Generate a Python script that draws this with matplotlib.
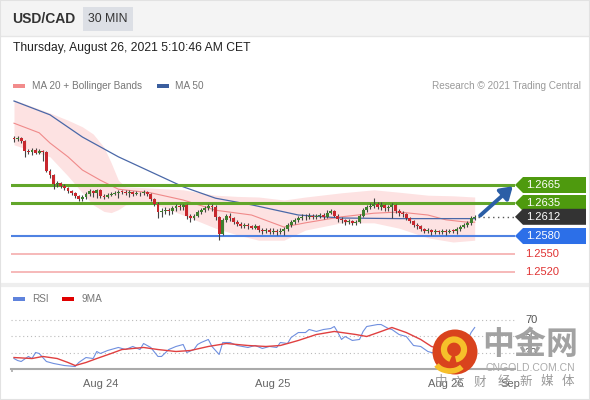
import matplotlib
matplotlib.use("Agg")
import matplotlib.pyplot as plt
from matplotlib.patches import Polygon, Rectangle, Circle, Arc

W, H = 590, 400

# 30 min candles, USD/CAD
first_open = 1.2743
closes = [1.2741, 1.2743, 1.2738, 1.2722, 1.2720, 1.2723, 1.2719, 1.2722, 1.2720, 1.2689,
          1.2681, 1.2666, 1.2668, 1.2664, 1.2660, 1.2655, 1.2651, 1.2646, 1.2641, 1.2645,
          1.2650, 1.2655, 1.2652, 1.2656, 1.2647, 1.2645, 1.2649, 1.2650, 1.2652, 1.2654,
          1.2653, 1.2651, 1.2653, 1.2650, 1.2652, 1.2651, 1.2653, 1.2650, 1.2641, 1.2634,
          1.2620, 1.2622, 1.2624, 1.2621, 1.2626, 1.2630, 1.2628, 1.2631, 1.2614, 1.2610,
          1.2614, 1.2620, 1.2624, 1.2627, 1.2630, 1.2628, 1.2611, 1.2584, 1.2607, 1.2613,
          1.2610, 1.2604, 1.2600, 1.2597, 1.2598, 1.2596, 1.2594, 1.2596, 1.2590, 1.2588,
          1.2590, 1.2587, 1.2589, 1.2586, 1.2588, 1.2592, 1.2598, 1.2603, 1.2607, 1.2610,
          1.2612, 1.2611, 1.2614, 1.2612, 1.2613, 1.2615, 1.2612, 1.2619, 1.2621, 1.2614,
          1.2609, 1.2606, 1.2603, 1.2605, 1.2601, 1.2604, 1.2614, 1.2623, 1.2628, 1.2630,
          1.2633, 1.2629, 1.2631, 1.2626, 1.2628, 1.2632, 1.2622, 1.2618, 1.2616, 1.2610,
          1.2605, 1.2599, 1.2596, 1.2592, 1.2589, 1.2590, 1.2587, 1.2588, 1.2586, 1.2588,
          1.2587, 1.2589, 1.2588, 1.2592, 1.2595, 1.2598, 1.2602, 1.2610, 1.2612]
highs = [1.2746, 1.2747, 1.2745, 1.2740, 1.2725, 1.2726, 1.2726, 1.2725, 1.2724, 1.2722,
         1.2691, 1.2684, 1.2672, 1.2670, 1.2666, 1.2662, 1.2657, 1.2653, 1.2648, 1.2648,
         1.2653, 1.2658, 1.2657, 1.2658, 1.2658, 1.2650, 1.2651, 1.2653, 1.2655, 1.2657,
         1.2656, 1.2656, 1.2656, 1.2655, 1.2655, 1.2654, 1.2656, 1.2655, 1.2652, 1.2643,
         1.2636, 1.2626, 1.2628, 1.2627, 1.2630, 1.2633, 1.2633, 1.2634, 1.2633, 1.2616,
         1.2617, 1.2623, 1.2627, 1.2630, 1.2634, 1.2634, 1.2631, 1.2614, 1.2610, 1.2617,
         1.2618, 1.2612, 1.2606, 1.2603, 1.2601, 1.2601, 1.2598, 1.2600, 1.2598, 1.2593,
         1.2594, 1.2593, 1.2593, 1.2591, 1.2593, 1.2595, 1.2601, 1.2606, 1.2610, 1.2614,
         1.2616, 1.2616, 1.2618, 1.2617, 1.2617, 1.2619, 1.2618, 1.2623, 1.2625, 1.2623,
         1.2616, 1.2612, 1.2608, 1.2608, 1.2607, 1.2607, 1.2617, 1.2626, 1.2632, 1.2635,
         1.2643, 1.2636, 1.2636, 1.2634, 1.2632, 1.2635, 1.2634, 1.2625, 1.2621, 1.2618,
         1.2612, 1.2607, 1.2602, 1.2598, 1.2594, 1.2593, 1.2592, 1.2592, 1.2590, 1.2592,
         1.2591, 1.2592, 1.2592, 1.2595, 1.2598, 1.2601, 1.2605, 1.2613, 1.2615]
lows = [1.2737, 1.2738, 1.2735, 1.2712, 1.2716, 1.2715, 1.2716, 1.2716, 1.2705, 1.2686,
        1.2677, 1.2658, 1.2662, 1.2660, 1.2657, 1.2652, 1.2648, 1.2643, 1.2638, 1.2638,
        1.2642, 1.2647, 1.2645, 1.2644, 1.2643, 1.2641, 1.2643, 1.2646, 1.2648, 1.2644,
        1.2650, 1.2648, 1.2645, 1.2647, 1.2648, 1.2647, 1.2649, 1.2646, 1.2638, 1.2630,
        1.2610, 1.2612, 1.2617, 1.2615, 1.2617, 1.2622, 1.2624, 1.2624, 1.2608, 1.2604,
        1.2607, 1.2611, 1.2617, 1.2620, 1.2623, 1.2622, 1.2606, 1.2573, 1.2581, 1.2603,
        1.2605, 1.2600, 1.2596, 1.2594, 1.2594, 1.2592, 1.2591, 1.2591, 1.2587, 1.2584,
        1.2585, 1.2583, 1.2584, 1.2582, 1.2583, 1.2582, 1.2589, 1.2595, 1.2600, 1.2604,
        1.2607, 1.2607, 1.2608, 1.2609, 1.2609, 1.2610, 1.2609, 1.2610, 1.2616, 1.2611,
        1.2604, 1.2602, 1.2599, 1.2600, 1.2598, 1.2598, 1.2602, 1.2612, 1.2620, 1.2625,
        1.2627, 1.2625, 1.2624, 1.2622, 1.2622, 1.2610, 1.2619, 1.2614, 1.2611, 1.2607,
        1.2601, 1.2595, 1.2592, 1.2588, 1.2585, 1.2585, 1.2582, 1.2584, 1.2583, 1.2584,
        1.2582, 1.2585, 1.2585, 1.2584, 1.2589, 1.2593, 1.2595, 1.2599, 1.2607]

# indicators (sampled at bar index)
ma50_bar = [0, 10, 19, 29, 38, 47, 56, 66, 79, 91, 107, 128]
ma50 = [1.2805, 1.2782, 1.2745, 1.2712, 1.2687, 1.2662, 1.2643, 1.2632, 1.2615, 1.2610, 1.2609, 1.2609]
ma20_bar = [0, 7, 10, 15, 19, 24, 29, 38, 47, 56, 66, 75, 81, 91, 100, 107, 115, 120, 126, 128]
ma20 = [1.2768, 1.2752, 1.2735, 1.2712, 1.2690, 1.2673, 1.2658, 1.2652, 1.2640, 1.2623,
        1.2615, 1.2595, 1.2602, 1.2612, 1.2618, 1.2620, 1.2615, 1.2607, 1.2603, 1.2603]
band_bar = [0, 10, 15, 19, 22, 25, 27, 29, 31, 38, 47, 56, 62, 68, 75, 81, 91, 100, 107, 115, 122, 128]
band_up = [1.2807, 1.2785, 1.2773, 1.2762, 1.2750, 1.2728, 1.2702, 1.2673, 1.2662, 1.2660, 1.2657,
           1.2648, 1.2646, 1.2645, 1.2640, 1.2645, 1.2652, 1.2657, 1.2653, 1.2648, 1.2647, 1.2645]
band_dn = [1.2732, 1.2712, 1.2680, 1.2652, 1.2632, 1.2621, 1.2619, 1.2624, 1.2632, 1.2635, 1.2615,
           1.2593, 1.2582, 1.2573, 1.2573, 1.2590, 1.2602, 1.2602, 1.2593, 1.2577, 1.2570, 1.2573]

rsi_bar = [0, 1, 2, 4, 5, 6, 7, 9, 11, 14, 17, 18, 20, 22, 23, 24, 26, 29, 31, 33,
           35, 36, 38, 40, 41, 43, 45, 47, 48, 50, 51, 52, 54, 55, 57, 58, 60, 62, 65, 67,
           69, 71, 73, 74, 76, 77, 79, 81, 82, 84, 86, 88, 89, 90, 91, 92, 94, 96, 97, 98,
           101, 102, 104, 105, 107, 109, 111, 113, 115, 116, 118, 120, 122, 124, 126, 127, 128]
rsi = [23.3, 20.9, 19.7, 25.8, 23.3, 30.6, 29.4, 19.7, 17.3, 14.8, 13.6, 18.5, 24.5, 23.3, 31.8, 29.4, 33.0, 36.7, 34.2, 37.9,
       34.2, 41.5, 36.7, 25.8, 25.8, 34.2, 37.9, 40.3, 30.6, 34.2, 40.3, 42.7, 46.4, 37.9, 28.2, 42.7, 42.7, 39.1, 36.7, 39.1,
       35.5, 37.9, 36.7, 42.7, 41.5, 48.8, 54.8, 54.8, 58.5, 56.1, 58.5, 59.7, 62.1, 54.8, 46.4, 50.0, 45.2, 46.4, 56.1, 62.1,
       64.5, 64.5, 59.7, 58.5, 52.4, 50.0, 39.1, 37.9, 31.8, 30.6, 30.0, 29.0, 31.0, 38.0, 45.0, 54.8, 60.9]
rsi_ma_bar = [0, 5, 8, 12, 15, 17, 20, 23, 27, 30, 36, 40, 45, 49, 54, 59, 65, 70, 74, 77,
              79, 84, 89, 95, 98, 102, 105, 109, 113, 116, 120, 124, 128]
rsi_ma = [24.5, 23.3, 25.8, 23.3, 18.5, 14.8, 18.5, 23.3, 29.4, 34.2, 36.7, 34.2, 31.8, 33.0, 37.9, 41.5, 39.1, 37.9, 39.1, 42.7,
          45.2, 52.4, 56.1, 52.4, 50.0, 56.1, 60.9, 54.8, 46.4, 37.9, 33.0, 34.0, 42.0]

resistances = [1.2665, 1.2635]
supports = [1.2580, 1.2550, 1.2520]
last_price = 1.2612
rsi_levels = [70, 50, 30]
day_ticks = [24, 72, 120, 138]
day_labels = ["Aug 24", "Aug 25", "Aug 26", "Sep"]

plt.rcParams['font.family'] = ['Liberation Sans', 'Noto Sans CJK SC', 'DejaVu Sans']

fig = plt.figure(figsize=(W / 100, H / 100), dpi=100)
fig.patch.set_facecolor('white')


def fx(x):
    return x / W


def fy(y):
    return 1 - y / H


# header band
fig.patches.append(Rectangle((0, fy(36)), 1, 36 / H, transform=fig.transFigure,
                             facecolor='#f4f4f4', edgecolor='none', zorder=0))
fig.add_artist(plt.Line2D([0, 1], [fy(36), fy(36)], color='#e6e6e6', lw=1))
fig.patches.append(Rectangle((fx(83), fy(31)), 50 / W, 24 / H, transform=fig.transFigure,
                             facecolor='#dcdfe5', edgecolor='none', zorder=1))
fig.text(fx(12), fy(19), "USD/CAD", fontsize=10, fontweight='bold', color='#333333', va='center')
fig.text(fx(108), fy(19), "30 MIN", fontsize=8.8, color='#333333', va='center', ha='center')
fig.text(fx(13), fy(48), "Thursday, August 26, 2021 5:10:46 AM CET", fontsize=8.7,
         color='#222222', va='center')

# legend row
fig.patches.append(Rectangle((fx(13), fy(88)), 12 / W, 4 / H, transform=fig.transFigure,
                             facecolor='#f28c8c', edgecolor='none'))
fig.text(fx(32), fy(86), "MA 20 + Bollinger Bands", fontsize=7.2, color='#777777', va='center')
fig.patches.append(Rectangle((fx(157), fy(88)), 12 / W, 4 / H, transform=fig.transFigure,
                             facecolor='#3b5e9e', edgecolor='none'))
fig.text(fx(175), fy(86), "MA 50", fontsize=7.2, color='#777777', va='center')
fig.text(fx(581), fy(86), "Research \u00a9 2021 Trading Central", fontsize=7.2,
         color='#9a9a9a', va='center', ha='right')

# main price panel
ax = fig.add_axes([fx(11), fy(280), 504 / W, 185 / H])
ax.set_xlim(-0.83, 139.2)
ax.set_ylim(1.25067, 1.2815)
ax.axis('off')

ax.fill_between(band_bar, band_dn, band_up, color='#fde2e2', lw=0, zorder=1)
ax.plot(ma20_bar, ma20, color='#f08a8a', lw=0.8, zorder=2)
ax.plot(ma50_bar, ma50, color='#4a68a8', lw=0.9, zorder=2)

for p in resistances:
    ax.axhline(p, color='#62a62a', lw=2.2, zorder=3)
ax.axhline(supports[0], color='#4f82e2', lw=1.5, zorder=3)
for p in supports[1:]:
    ax.axhline(p, color='#f6b3b3', lw=1.3, zorder=3)

opens = [first_open] + closes[:-1]
for i, (o, c, hi, lo) in enumerate(zip(opens, closes, highs, lows)):
    col = '#3f7f2f' if c > o else '#c8282e'
    ax.vlines(i, lo, hi, color='#444444', lw=0.8, zorder=4)
    body = max(abs(c - o), 0.00014)
    ax.bar(i, body, bottom=min(o, c), width=0.8, color=col, lw=0, zorder=5)

n = len(closes)
ax.hlines(last_price, n, 139.2, color='#555555', lw=1, linestyle=(0, (1, 2.5)), zorder=3)
ax.annotate("", xy=(138.6, 1.2663), xytext=(129.5, 1.2614),
            arrowprops=dict(arrowstyle='-|>,head_length=0.7,head_width=0.45', color='#2b5ea6',
                            lw=2.8, shrinkA=0, shrinkB=0), zorder=6)


def price_y(p):
    return fig.transFigure.inverted().transform(ax.transData.transform((0, p)))[1] * H


def tag(p, text, face):
    y = price_y(p)
    pts = [(515, y), (523, y - 8), (586, y - 8), (586, y + 8), (523, y + 8)]
    fig.patches.append(Polygon([(fx(a), b / H) for a, b in pts], closed=True,
                               transform=fig.transFigure, facecolor=face, edgecolor='none', zorder=5))
    fig.text(fx(526), y / H, text, fontsize=8, color='white', va='center', zorder=6)


tag(resistances[0], "%.4f" % resistances[0], '#4e9a0e')
tag(resistances[1], "%.4f" % resistances[1], '#4e9a0e')
tag(last_price, "%.4f" % last_price, '#333333')
tag(supports[0], "%.4f" % supports[0], '#2c6fe8')
for p in supports[1:]:
    fig.text(fx(525), price_y(p) / H, "%.4f" % p, fontsize=8, color='#e03232', va='center')

# separator
fig.add_artist(plt.Line2D([0, 1], [fy(284.5), fy(284.5)], color='#eeeeee', lw=3))

# RSI panel
fig.patches.append(Rectangle((fx(13), fy(301)), 12 / W, 4 / H, transform=fig.transFigure,
                             facecolor='#5f83dc', edgecolor='none'))
fig.text(fx(32), fy(299), "RSI", fontsize=7.2, color='#777777', va='center')
fig.patches.append(Rectangle((fx(62), fy(301)), 12 / W, 4 / H, transform=fig.transFigure,
                             facecolor='#e00000', edgecolor='none'))
fig.text(fx(82), fy(299), "9MA", fontsize=7.2, color='#777777', va='center')

axr = fig.add_axes([fx(11), fy(369), 504 / W, 74 / H])
axr.set_xlim(-0.83, 139.2)
axr.set_ylim(10.6, 100.3)
axr.patch.set_alpha(0)
for s in ['top', 'right', 'left']:
    axr.spines[s].set_visible(False)
axr.spines['bottom'].set_color('#aaaaaa')
axr.spines['bottom'].set_linewidth(1.5)
axr.set_yticks([])
axr.set_xticks(day_ticks, day_labels)
axr.tick_params(axis='x', length=0, pad=7, labelsize=8, labelcolor='#666666')
axr.vlines(-0.6, 6.5, 10.6, color='#aaaaaa', lw=1.2, clip_on=False)

for lv in rsi_levels:
    axr.hlines(lv, -0.83, 139.2, color='#bbbbbb', lw=0.8, linestyle=(0, (1, 2.5)))
    fig.text(fx(525), fy(369) + (lv - 10.6) * (74 / 89.7) / H, str(lv), fontsize=8,
             color='#555555', va='center')
axr.plot(rsi_bar, rsi, color='#6f8fdf', lw=0.8)
axr.plot(rsi_ma_bar, rsi_ma, color='#e04040', lw=1.0)

# watermark
fig.patches.append(Circle((4.55, 0.48), 0.225, transform=fig.dpi_scale_trans,
                          facecolor='#d9431d', edgecolor='none', zorder=10))
fig.patches.append(Arc((4.54, 0.505), 0.2, 0.2, theta1=-80, theta2=250, transform=fig.dpi_scale_trans,
                       color='#f6c02a', lw=4.5, zorder=11))
fig.patches.append(Arc((4.50, 0.40), 0.3, 0.22, theta1=200, theta2=330, transform=fig.dpi_scale_trans,
                       color='#f6c02a', lw=4, zorder=11))
fig.text(fx(530), fy(345), "中金网", fontsize=23, fontweight='bold', color='#a2a2a2',
         ha='center', va='center', family=['Noto Sans CJK SC'], zorder=10)
fig.text(fx(530), fy(368), "CNGOLD.COM.CN", fontsize=7.5, color='#aaaaaa',
         ha='center', va='center', zorder=10)
for ch, x in zip("中文财经新媒体", [441, 458, 480, 504, 526, 547, 568]):
    fig.text(fx(x), fy(382), ch, fontsize=9, color='#999999', ha='center', va='center',
             family=['Noto Sans CJK SC'], zorder=10)

# outer frame
fig.patches.append(Rectangle((0, 0), 1, 1, transform=fig.transFigure, facecolor='none',
                             edgecolor='#e2e2e2', lw=1.5, zorder=20))

fig.savefig("out.png", dpi=100)
